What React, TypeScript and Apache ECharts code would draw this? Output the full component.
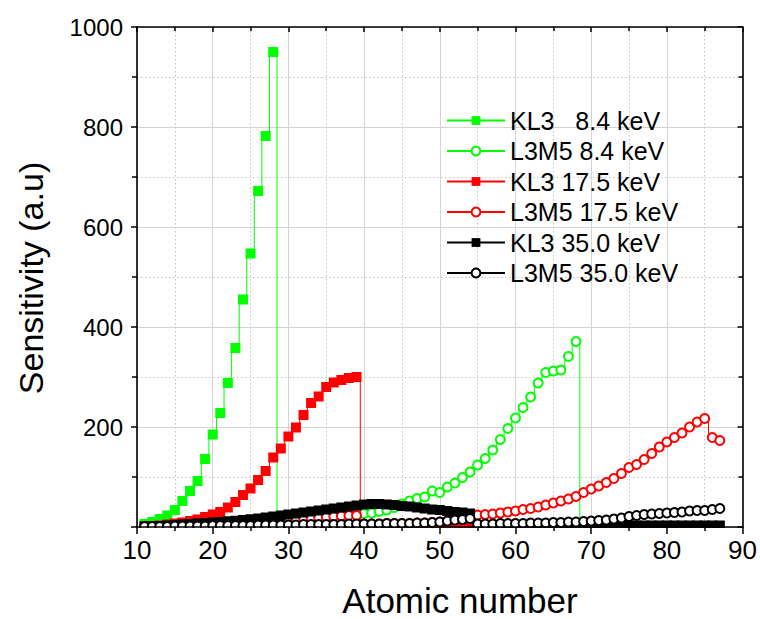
import React, { useEffect, useRef } from 'react';
import * as echarts from 'echarts';

// Atomic number where each series starts (one value per integer Z afterwards)
const START_KL3_84 = 11;
const START_L3M5_84 = 40;
const START_KL3_175 = 11;
const START_L3M5_175 = 20;
const START_KL3_350 = 11;
const START_L3M5_350 = 11;

// KL3 8.4 keV (Z 11..29, last point = drop after K edge)
const KL3_84 = [6, 10, 16, 23, 34, 52, 72, 92, 136, 185, 228, 288, 358, 455, 547, 672, 782, 950, 0];
// L3M5 8.4 keV (Z 40..69)
const L3M5_84 = [27, 28, 31, 34, 39, 46, 52, 57, 60, 72, 69, 80, 88, 99, 110, 124, 137, 154, 175, 197, 218, 239, 260, 288, 309, 312, 314, 341, 371, 0];
// KL3 17.5 keV (Z 11..54)
const KL3_175 = [1, 2, 3, 5, 7, 9, 12, 15, 20, 25, 30, 39, 50, 64, 77, 94, 112, 139, 157, 181, 199, 224, 248, 261, 280, 289, 294, 298, 300,
  3, 3, 3, 3, 3, 3, 3, 3, 3, 3, 4, 4, 4, 4, 4];
// L3M5 17.5 keV (Z 20..87)
const L3M5_175 = [5, 6, 7, 8, 9, 10, 11, 12, 13, 14, 15, 16, 17, 18, 19, 20, 21, 22, 23, 23,
  6, 6, 6, 7, 7, 7, 7, 8, 8, 9, 10, 12, 14, 15, 17,
  24, 25, 26, 28, 30, 32, 35, 37, 40, 44, 48, 52, 56, 61, 69, 76, 82, 89, 97, 107, 119, 125, 135, 147, 160, 170, 179, 188, 200, 210, 217, 179, 173];
// KL3 35.0 keV (Z 11..87)
const KL3_350 = [1, 1.5, 2, 3, 4, 5, 6, 7, 8, 9, 10, 11.5, 12.5, 14, 15.5, 17, 19, 21, 23, 25,
  27, 29, 31, 33, 35, 37, 39, 41, 43, 45, 46, 46, 45, 44, 42, 41, 39, 37, 35, 34, 32, 30, 29, 27,
  2, 2, 2, 2, 2, 2, 2, 2, 2, 2, 2, 2, 2, 2, 2, 2, 3, 3, 3, 3, 3, 3, 3, 3, 3, 3, 3, 3, 3, 3, 3, 3, 3];
// L3M5 35.0 keV (Z 11..87)
const L3M5_350 = [1, 1, 1, 1, 2, 2, 2, 2, 2, 3, 3, 3, 3, 3, 3, 4, 4, 4, 4, 4,
  4, 5, 5, 5, 5, 5, 5, 6, 6, 6, 6, 6, 7, 7, 7, 7, 8, 8, 9, 10, 12, 14, 15, 17,
  6, 6, 6, 7, 7, 7, 7, 8, 8, 8, 9, 9, 10, 10, 11, 12, 13, 14, 16, 18,
  21, 23, 25, 26, 27, 28, 29, 30, 32, 33, 33, 35, 37];

const NAMES = ['KL3   8.4 keV', 'L3M5 8.4 keV', 'KL3 17.5 keV', 'L3M5 17.5 keV', 'KL3 35.0 keV', 'L3M5 35.0 keV'];
const COLORS = ['#00ff00', '#00ff00', '#ff0000', '#ff0000', '#000000', '#000000'];

const X_MIN = 10, X_MAX = 90, X_STEP = 10;
const Y_MIN = 0, Y_MAX = 1000, Y_STEP = 200;

const FONT = "'Liberation Sans', Arial, Helvetica, sans-serif";

function toData(start: number, vals: number[], hideLast: boolean) {
  return vals.map((v, i) =>
    hideLast && i === vals.length - 1
      ? { value: [start + i, v], symbol: 'none' }
      : [start + i, v]
  );
}

export default function App() {
  const ref = useRef<HTMLDivElement>(null);
  useEffect(() => {
    if (!ref.current) return;
    const chart = echarts.init(ref.current, undefined, { renderer: 'svg' });
    const grid = { left: 137, top: 27, width: 607, height: 500 };

    const mk = (i: number, start: number, vals: number[], filled: boolean, hideLast: boolean) => ({
      name: NAMES[i],
      type: 'line',
      step: 'middle',
      xAxisIndex: 0,
      yAxisIndex: 0,
      data: toData(start, vals, hideLast),
      symbol: filled ? 'rect' : 'emptyCircle',
      symbolSize: filled ? 10 : 9,
      showAllSymbol: true,
      color: COLORS[i],
      lineStyle: { color: COLORS[i], width: 1 },
      itemStyle: filled
        ? { color: COLORS[i], borderWidth: 0 }
        : { color: COLORS[i], borderColor: COLORS[i], borderWidth: 1.3 },
      emphasis: { disabled: true },
      z: 2 + i * 0.01,
    });

    const baseAxis = {
      type: 'value' as const,
      axisLine: { show: false },
      axisTick: { show: false },
      axisLabel: { show: false },
      minorTick: { show: false, splitNumber: 2 },
    };
    const gridLines = {
      splitLine: { show: true, lineStyle: { color: '#d4d4d4', width: 1 } },
      minorSplitLine: { show: true, lineStyle: { color: '#c4c4c4', width: 1, type: [1.5, 2.5] } },
    };
    const frame = {
      axisLine: { show: true, onZero: false, lineStyle: { color: '#000', width: 1.6 } },
      splitLine: { show: false },
      minorSplitLine: { show: false },
      z: 100,
    };

    chart.setOption({
      animation: false,
      backgroundColor: '#fff',
      grid,
      legend: {
        orient: 'vertical',
        left: 446,
        top: 108,
        padding: 0,
        itemWidth: 58,
        itemHeight: 11,
        itemGap: 5.5,
        data: NAMES,
        textStyle: { fontFamily: FONT, fontSize: 25, color: '#000', lineHeight: 25 },
        selectedMode: false,
      },
      xAxis: [
        { ...baseAxis, ...gridLines, min: X_MIN, max: X_MAX, interval: X_STEP, position: 'bottom', z: 0 },
        {
          ...baseAxis, ...frame, min: X_MIN, max: X_MAX, interval: X_STEP, position: 'bottom',
          axisTick: { show: true, length: 7, lineStyle: { color: '#000', width: 1.5 } },
          minorTick: { show: true, splitNumber: 2, length: 4, lineStyle: { color: '#000', width: 1.5 } },
          axisLabel: { show: true, margin: 10, fontFamily: "'Liberation Sans Narrow', 'Liberation Sans', Arial, sans-serif", fontSize: 26, color: '#000' },
        },
        {
          ...baseAxis, ...frame, min: X_MIN, max: X_MAX, interval: X_STEP, position: 'top',
          axisTick: { show: true, inside: true, length: 5, lineStyle: { color: '#000', width: 1.5 } },
          minorTick: { show: true, splitNumber: 2, length: 4, lineStyle: { color: '#000', width: 1.5 } },
        },
      ],
      yAxis: [
        { ...baseAxis, ...gridLines, min: Y_MIN, max: Y_MAX, interval: Y_STEP, position: 'left', z: 0 },
        {
          ...baseAxis, ...frame, min: Y_MIN, max: Y_MAX, interval: Y_STEP, position: 'left',
          axisTick: { show: true, length: 6, lineStyle: { color: '#000', width: 1.5 } },
          minorTick: { show: true, splitNumber: 2, length: 5, lineStyle: { color: '#000', width: 1.5 } },
          axisLabel: {
            show: true, margin: 14, fontFamily: FONT, fontSize: 24, color: '#000',
            formatter: (v: number) => (v === 0 ? '' : String(v)),
          },
        },
        {
          ...baseAxis, ...frame, min: Y_MIN, max: Y_MAX, interval: Y_STEP, position: 'right',
          axisTick: { show: true, inside: true, length: 5, lineStyle: { color: '#000', width: 1.5 } },
          minorTick: { show: true, splitNumber: 2, length: 4, lineStyle: { color: '#000', width: 1.5 } },
        },
      ],
      graphic: [
        {
          type: 'rect', z: 50, silent: true,
          shape: { x: 120, y: grid.top + grid.height + 1, width: 640, height: 20 },
          style: { fill: '#fff' },
        },
        {
          type: 'text', z: 60, x: 31, y: 278, rotation: Math.PI / 2,
          style: { text: 'Sensitivity (a.u)', font: `34px ${FONT}`, fill: '#000', textAlign: 'center', textVerticalAlign: 'middle' },
        },
        {
          type: 'text', z: 60, x: 460, y: 600,
          style: { text: 'Atomic number', font: `35px ${FONT}`, fill: '#000', textAlign: 'center', textVerticalAlign: 'middle' },
        },
      ],
      series: [
        mk(0, START_KL3_84, KL3_84, true, true),
        mk(1, START_L3M5_84, L3M5_84, false, true),
        mk(2, START_KL3_175, KL3_175, true, false),
        mk(3, START_L3M5_175, L3M5_175, false, false),
        mk(4, START_KL3_350, KL3_350, true, false),
        mk(5, START_L3M5_350, L3M5_350, false, false),
      ],
    });
    return () => chart.dispose();
  }, []);
  return (
    <div
      ref={ref}
      style={{ position: 'absolute', left: 0, top: 0, width: 760, height: 619, background: '#fff' }}
    />
  );
}
